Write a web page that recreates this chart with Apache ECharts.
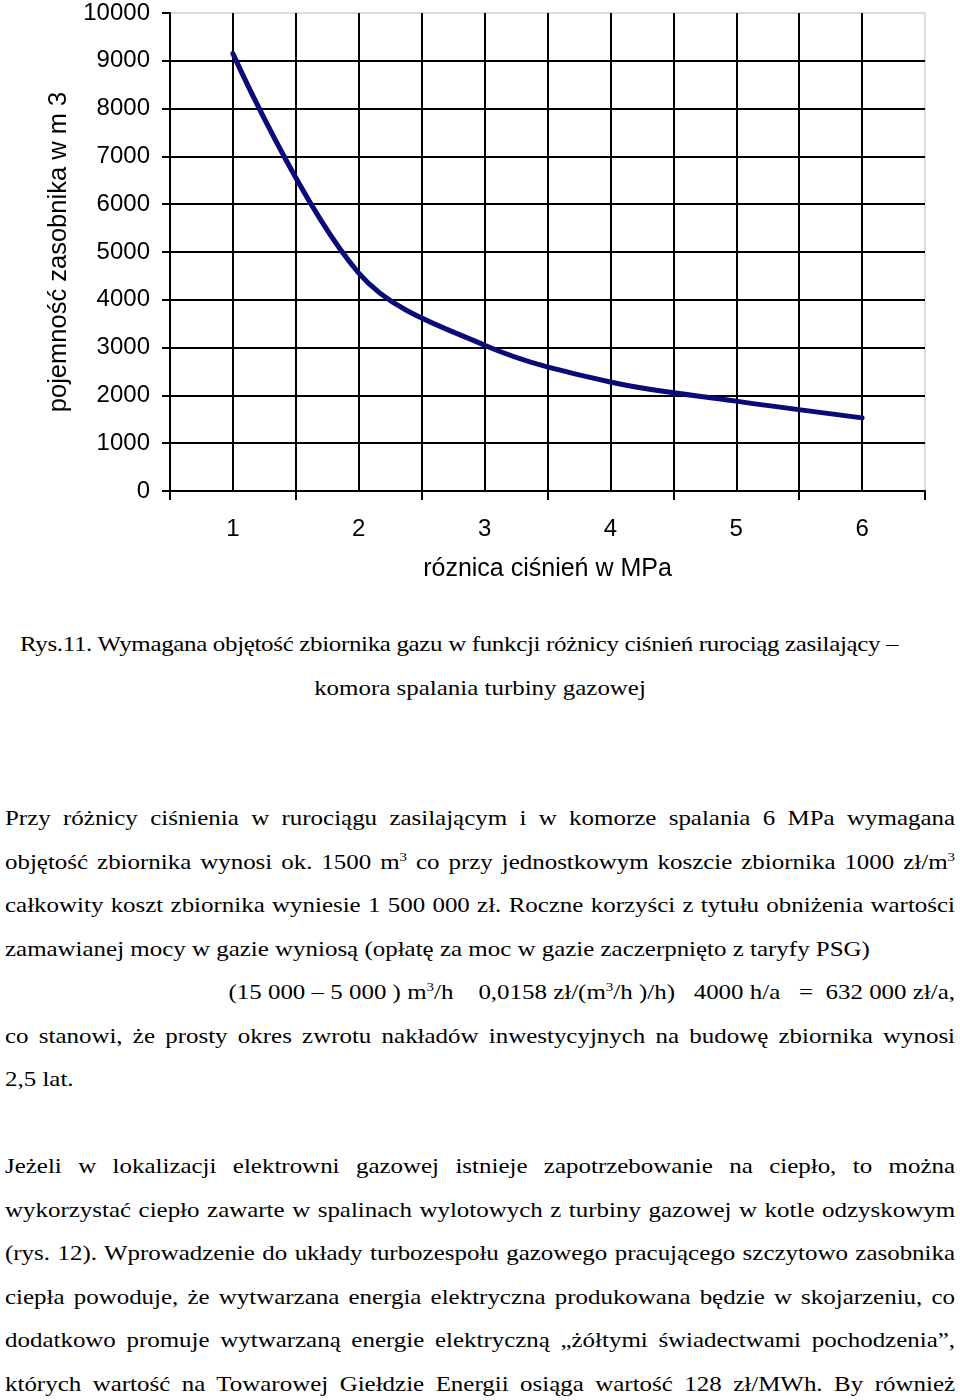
<!DOCTYPE html>
<html>
<head>
<meta charset="utf-8">
<script src="https://cdn.jsdelivr.net/npm/echarts@6/dist/echarts.min.js"></script>
<style>
  html, body { margin: 0; padding: 0; background: #fff; }
  body { width: 960px; height: 1400px; position: relative; overflow: hidden; }
  #chart { position: absolute; left: 0; top: 0; width: 960px; height: 610px; }
  .txt { position: absolute; left: 5px; top: 623px; width: 819px;
         transform: scaleX(1.16); transform-origin: 0 0;
         font-family: "Liberation Serif", "Times New Roman", serif; font-size: 21.5px;
         line-height: 43.5px; color: #000; }
  .ln { height: 43.5px; white-space: nowrap; }
  .j { text-align: justify; text-align-last: justify; white-space: normal; }
  .c { text-align: center; }
  .r { text-align: right; }
  sup { font-size: 0.6em; vertical-align: 0.6em; line-height: 0; }
</style>
</head>
<body>
<div id="chart"></div>
<div class="txt">
  <div class="ln c" style="padding-right:36px; letter-spacing:-0.28px">Rys.11. Wymagana objętość zbiornika gazu w funkcji różnicy ciśnień rurociąg zasilający –</div>
  <div class="ln c">komora spalania turbiny gazowej</div>
  <div class="ln"></div>
  <div class="ln"></div>
  <div class="ln j">Przy różnicy ciśnienia w rurociągu zasilającym i w komorze spalania 6 MPa wymagana</div>
  <div class="ln j">objętość zbiornika wynosi ok. 1500 m<sup>3</sup> co przy jednostkowym koszcie zbiornika 1000 zł/m<sup>3</sup></div>
  <div class="ln j">całkowity koszt zbiornika wyniesie 1 500 000 zł. Roczne korzyści z tytułu obniżenia wartości</div>
  <div class="ln">zamawianej mocy w gazie wyniosą (opłatę za moc w gazie zaczerpnięto z taryfy PSG)</div>
  <div class="ln r">(15 000 – 5 000 ) m<sup>3</sup>/h &nbsp;&nbsp;&nbsp;0,0158 zł/(m<sup>3</sup>/h )/h) &nbsp;&nbsp;4000 h/a &nbsp;&nbsp;= &nbsp;632 000 zł/a,</div>
  <div class="ln j">co stanowi, że prosty okres zwrotu nakładów inwestycyjnych na budowę zbiornika wynosi</div>
  <div class="ln">2,5 lat.</div>
  <div class="ln"></div>
  <div class="ln j">Jeżeli w lokalizacji elektrowni gazowej istnieje zapotrzebowanie na ciepło, to można</div>
  <div class="ln j">wykorzystać ciepło zawarte w spalinach wylotowych z turbiny gazowej w kotle odzyskowym</div>
  <div class="ln j">(rys. 12). Wprowadzenie do układy turbozespołu gazowego pracującego szczytowo zasobnika</div>
  <div class="ln j">ciepła powoduje, że wytwarzana energia elektryczna produkowana będzie w skojarzeniu, co</div>
  <div class="ln j">dodatkowo promuje wytwarzaną energie elektryczną „żółtymi świadectwami pochodzenia”,</div>
  <div class="ln j">których wartość na Towarowej Giełdzie Energii osiąga wartość 128 zł/MWh. By również</div>
</div>
<script>
const categories = ['1', '2', '3', '4', '5', '6'];
const volumeValues = [9150, 4560, 3050, 2280, 1880, 1530];
const yTickValues = [0, 1000, 2000, 3000, 4000, 5000, 6000, 7000, 8000, 9000, 10000];
const xAxisName = 'róznica ciśnień w MPa';
const yAxisName = 'pojemność zasobnika w m 3';

const chart = echarts.init(document.getElementById('chart'), null, { renderer: 'canvas' });
const black = '#000';
const sans = '"Liberation Sans", Arial, sans-serif';
chart.setOption({
  animation: false,
  backgroundColor: '#fff',
  grid: { left: 170, right: 35, top: 13, bottom: 119, show: true, borderColor: '#dcdcdc', borderWidth: 2, backgroundColor: '#fff' },
  xAxis: [
    {
      type: 'category',
      data: categories,
      boundaryGap: true,
      name: xAxisName,
      nameLocation: 'middle',
      nameGap: 66,
      nameTextStyle: { fontFamily: sans, fontSize: 25, color: black },
      axisLine: { lineStyle: { color: black, width: 2 } },
      axisTick: { show: true, length: 9, lineStyle: { color: black, width: 2 } },
      axisLabel: { fontFamily: sans, fontSize: 24, color: black, margin: 26 },
      splitLine: { show: false }
    },
    {
      type: 'value',
      min: 0.5, max: 6.5, interval: 0.5,
      position: 'top',
      axisLine: { show: false },
      axisTick: { show: false },
      axisLabel: { show: false },
      splitLine: { show: true, showMinLine: false, showMaxLine: false, lineStyle: { color: black, width: 2 } }
    }
  ],
  yAxis: {
    type: 'value',
    min: yTickValues[0],
    max: yTickValues[yTickValues.length - 1],
    interval: yTickValues[1] - yTickValues[0],
    name: yAxisName,
    nameLocation: 'middle',
    nameGap: 90,
    nameRotate: 90,
    nameTextStyle: { fontFamily: sans, fontSize: 25.5, color: black },
    axisLine: { show: true, lineStyle: { color: black, width: 2 } },
    axisTick: { show: true, length: 8, lineStyle: { color: black, width: 2 } },
    axisLabel: { fontFamily: sans, fontSize: 24, color: black, margin: 20, formatter: function (v) { return String(v); } },
    splitLine: { show: true, showMaxLine: false, lineStyle: { color: black, width: 2 } }
  },
  series: [{
    type: 'line',
    xAxisIndex: 0,
    data: volumeValues,
    smooth: 0.35,
    symbol: 'none',
    lineStyle: { color: '#0a0a78', width: 5, cap: 'round' },
    z: 5
  }]
});
</script>
</body>
</html>
